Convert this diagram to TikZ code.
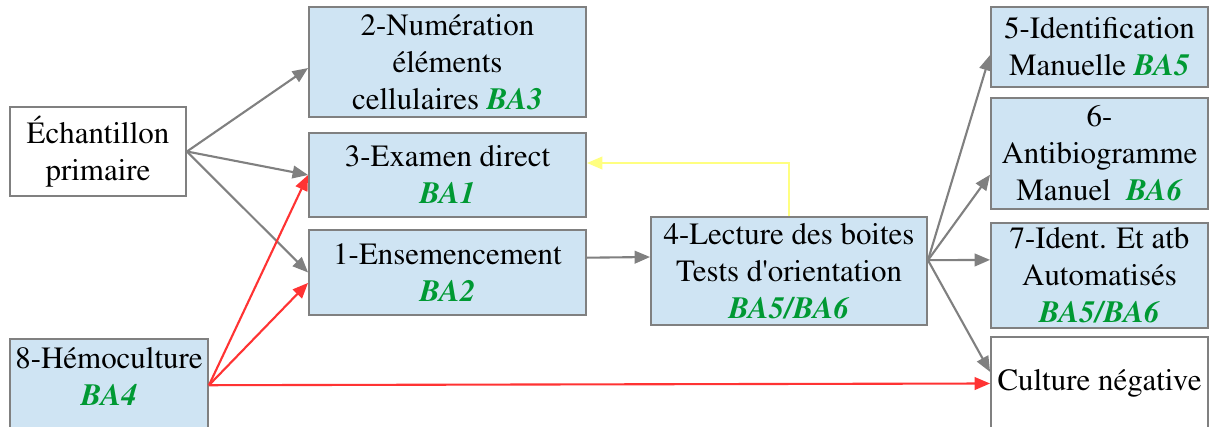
\documentclass[tikz,border=0pt]{standalone}
\usepackage[T1]{fontenc}
\usepackage{times}
\usetikzlibrary{arrows.meta}
\definecolor{boxblue}{RGB}{207,228,243}
\definecolor{bagreen}{RGB}{0,153,51}
\definecolor{linegray}{RGB}{128,128,128}
\definecolor{hemored}{RGB}{255,51,51}
\definecolor{paleyellow}{RGB}{255,255,128}
\newcommand{\ba}[1]{\textcolor{bagreen}{\textbf{\textit{#1}}}}

\begin{document}
\begin{tikzpicture}[x=0.025cm, y=-0.025cm,
    every node/.style={font=\fontsize{22}{26.3}\selectfont, align=center, inner xsep=1pt, inner ysep=0pt},
    stage/.style={draw=linegray, line width=1.3pt, fill=boxblue},
    plain/.style={draw=linegray, line width=1.3pt, fill=white},
    flow/.style={draw=linegray, line width=1.5pt, -{Triangle[length=11pt,width=9pt]}},
    hemo/.style={draw=hemored, line width=1.5pt, -{Triangle[length=11pt,width=9pt]}},
    back/.style={draw=paleyellow, line width=1.3pt, -{Triangle[length=11pt,width=9pt]}}]
  \useasboundingbox (0,0) rectangle (1210,427);

  % left column
  \node[plain, minimum width=4.4cm, minimum height=2.225cm] (ech) at (98,151.5) {Échantillon\\primaire};
  \node[stage, anchor=north, minimum width=4.95cm, inner ysep=6pt, text depth=1.55cm] (n8) at (109,338) {8-Hémoculture\\\ba{BA4}};

  % middle column
  \node[stage, minimum width=6.925cm, minimum height=2.75cm] (n2) at (447.5,62) {2-Numération\\éléments\\cellulaires \ba{BA3}};
  \node[stage, minimum width=6.925cm, minimum height=2.1cm] (n3) at (447.5,175) {3-Examen direct\\\ba{BA1}};
  \node[stage, minimum width=6.925cm, minimum height=2.125cm] (n1) at (447.5,272.5) {1-Ensemencement\\\ba{BA2}};
  \node[stage, minimum width=6.9cm, minimum height=2.7cm] (n4) at (789,271) {4-Lecture des boites\\Tests d\textquotesingle orientation\\\ba{BA5/BA6}};

  % right column
  \node[stage, minimum width=5.425cm, minimum height=2cm] (n5) at (1099.5,47) {5-Identification\\Manuelle \ba{BA5}};
  \node[stage, minimum width=5.425cm, minimum height=2.775cm] (n6) at (1099.5,153.5) {6-\\Antibiogramme\\Manuel~~\ba{BA6}};
  \node[stage, minimum width=5.425cm, minimum height=2.625cm] (n7) at (1099.5,275.5) {7-Ident. Et atb\\Automatisés\\\ba{BA5/BA6}};
  \node[plain, minimum width=5.425cm, minimum height=2.325cm] (cneg) at (1099.5,383.5) {Culture négative};

  % arrows
  \draw[flow] (ech.east) -- ([yshift=-0.15cm]n2.west);
  \draw[flow] (ech.east) -- (n3.west);
  \draw[flow] (ech.east) -- (n1.west);
  \coordinate (hemo) at ([yshift=-1.18cm]n8.north east);
  \draw[hemo] (hemo) -- (n3.west);
  \draw[hemo] (hemo) -- ([yshift=-0.26cm]n1.west);
  \draw[hemo] (hemo) -- (cneg.west);
  \draw[flow] ([yshift=0.37cm]n1.east) -- ([yshift=0.35cm]n4.west);
  \coordinate (fan) at ([yshift=0.27cm]n4.east);
  \draw[flow] (fan) -- ([yshift=-0.2cm]n5.west);
  \draw[flow] (fan) -- ([yshift=-0.53cm]n6.west);
  \draw[flow] (fan) -- ([yshift=0.39cm]n7.west);
  \draw[flow] (fan) -- ([yshift=0.29cm]cneg.west);
  \draw[back] (n4.north) |- ([yshift=0.3cm]n3.east);
\end{tikzpicture}
\end{document}
